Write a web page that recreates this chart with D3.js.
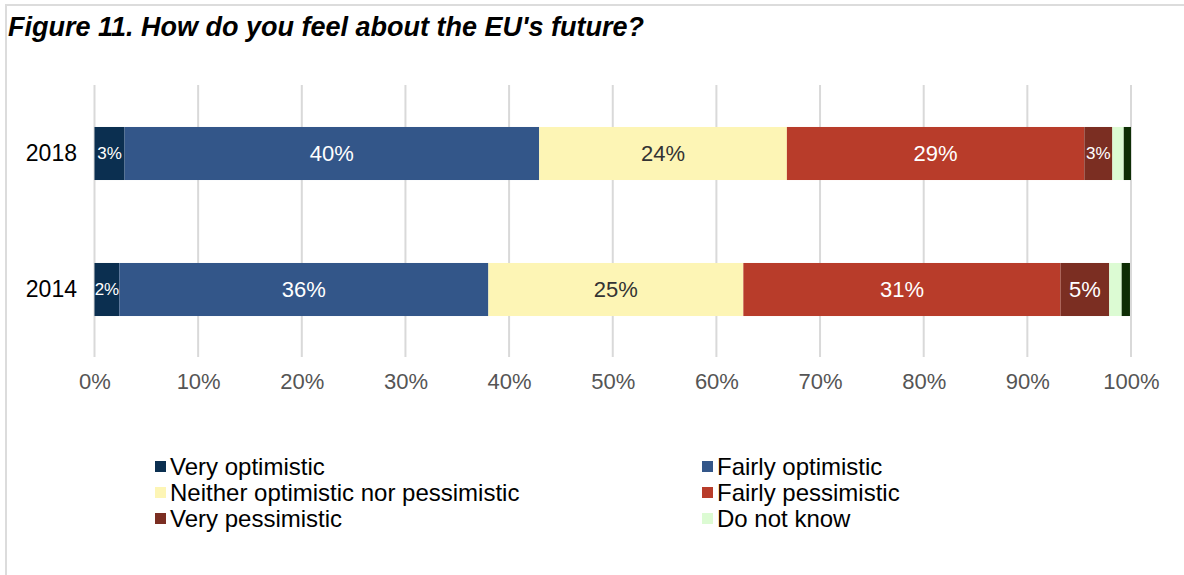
<!DOCTYPE html>
<html>
<head>
<meta charset="utf-8">
<script src="https://cdn.jsdelivr.net/npm/d3@7"></script>
<style>
  html, body { margin: 0; padding: 0; background: #fff; }
  svg { display: block; font-family: "Liberation Sans", Arial, Helvetica, sans-serif; }
</style>
</head>
<body>
<svg id="chart" width="1184" height="575"></svg>
<script>
// Survey years (top to bottom)
const years = ["2018", "2014"];

// Response categories, in stacking order
const categories = [
  "Very optimistic",
  "Fairly optimistic",
  "Neither optimistic nor pessimistic",
  "Fairly pessimistic",
  "Very pessimistic",
  "Do not know",
  "Other"
];

// Shares (%) per year, one entry per category
const values2018 = [2.9, 40.0, 23.9, 28.7, 2.7, 1.1, 0.7];
const values2014 = [2.4, 35.6, 24.6, 30.6, 4.7, 1.2, 0.8];

const colors = ["#0b2f50", "#335689", "#fdf5b5", "#b83c2a", "#7b2e22", "#dcfbd3", "#0e2e05"];
const textColors = ["#fff", "#fff", "#333", "#fff", "#fff", "#333", "#fff"];

// Categories that get a legend entry
const legendCategories = categories.slice(0, 6);

const xTicks = [0, 10, 20, 30, 40, 50, 60, 70, 80, 90, 100];

const svg = d3.select("#chart");

// Frame lines
svg.append("line").attr("x1", 5).attr("x2", 1184).attr("y1", 5).attr("y2", 5)
  .attr("stroke", "#dcdcdc").attr("stroke-width", 2);
svg.append("line").attr("x1", 6).attr("x2", 6).attr("y1", 5).attr("y2", 575)
  .attr("stroke", "#dcdcdc").attr("stroke-width", 2);

// Title
svg.append("text")
  .attr("x", 8).attr("y", 36)
  .attr("font-size", 27).attr("font-weight", "bold").attr("font-style", "italic")
  .attr("fill", "#000")
  .text("Figure 11. How do you feel about the EU's future?");

const x = d3.scaleLinear().domain([0, 100]).range([94.5, 1131]);
const y = d3.scaleBand().domain(years).range([85.5, 357.5])
  .paddingInner(0.61).paddingOuter(0.305);

// Vertical grid
svg.append("g").selectAll("line").data(xTicks).join("line")
  .attr("x1", d => x(d)).attr("x2", d => x(d))
  .attr("y1", 85).attr("y2", 357)
  .attr("stroke", "#d9d9d9").attr("stroke-width", 2);

// X axis labels
const xAxis = d3.axisBottom(x).tickValues(xTicks).tickFormat(d => d + "%").tickSize(0).tickPadding(0);
const gx = svg.append("g").attr("transform", "translate(0,374)").call(xAxis);
gx.select(".domain").remove();
gx.selectAll("text").attr("font-size", 22).attr("fill", "#555")
  .attr("font-family", "Liberation Sans, Arial, sans-serif").attr("dy", "0.35em").attr("y", 7);

// Y axis labels
const yAxis = d3.axisLeft(y).tickSize(0).tickPadding(0);
const gy = svg.append("g").attr("transform", "translate(77,0)").call(yAxis);
gy.select(".domain").remove();
gy.selectAll("text").attr("font-size", 23).attr("fill", "#000")
  .attr("font-family", "Liberation Sans, Arial, sans-serif");

// Stack the data
const table = years.map((yr, i) => {
  const vals = i === 0 ? values2018 : values2014;
  const row = { year: yr };
  categories.forEach((c, j) => row[c] = vals[j]);
  return row;
});
const series = d3.stack().keys(categories)(table);

const groups = svg.append("g").selectAll("g").data(series).join("g")
  .attr("fill", (d, i) => colors[i]);

groups.selectAll("rect").data(d => d).join("rect")
  .attr("x", d => x(d[0]))
  .attr("y", d => y(d.data.year))
  .attr("width", d => x(d[1]) - x(d[0]))
  .attr("height", y.bandwidth());

// Value labels
series.forEach((s, i) => {
  if (i >= 5) return;
  svg.append("g").selectAll("text").data(s).join("text")
    .attr("x", d => (x(d[0]) + x(d[1])) / 2)
    .attr("y", d => y(d.data.year) + y.bandwidth() / 2)
    .attr("dy", "0.35em")
    .attr("text-anchor", "middle")
    .attr("font-size", d => (d[1] - d[0]) < 4 ? 17 : 22)
    .attr("fill", textColors[i])
    .text(d => Math.round(d[1] - d[0]) + "%");
});

// Legend
const legendPos = [
  [155, 466], [702, 466],
  [155, 492], [702, 492],
  [155, 518], [702, 518]
];
const lg = svg.append("g").selectAll("g").data(legendCategories).join("g")
  .attr("transform", (d, i) => `translate(${legendPos[i][0]},${legendPos[i][1]})`);
lg.append("rect").attr("x", 0).attr("y", -5).attr("width", 11).attr("height", 11)
  .attr("fill", (d, i) => colors[i]);
lg.append("text").attr("x", 15).attr("y", 1).attr("dy", "0.35em")
  .attr("font-size", 24).attr("fill", "#000").text(d => d);
</script>
</body>
</html>
